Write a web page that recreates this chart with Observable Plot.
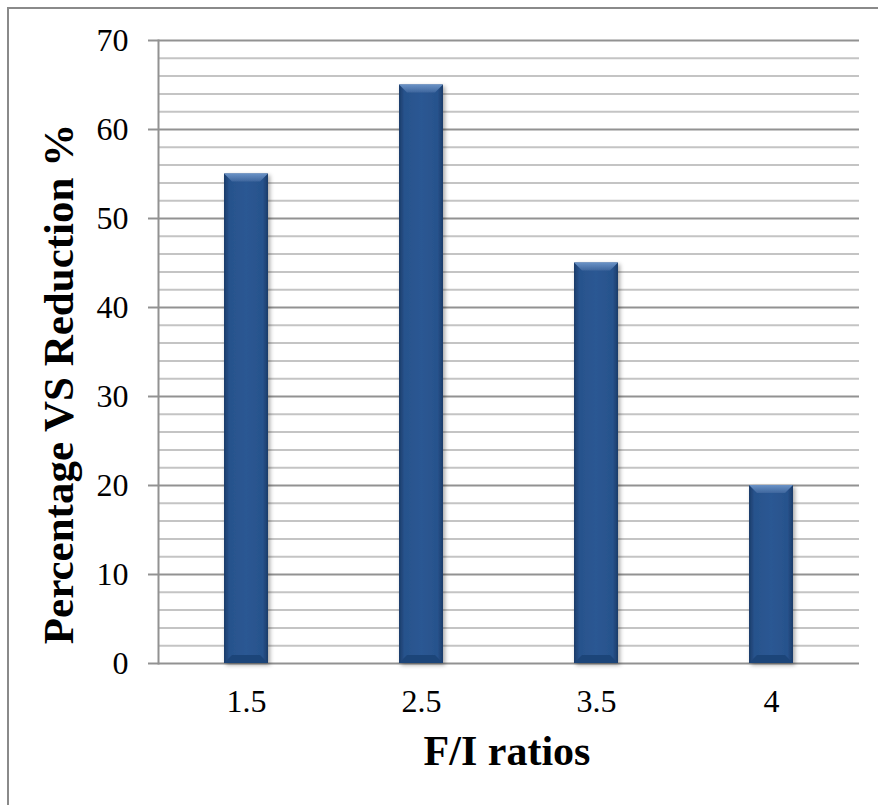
<!DOCTYPE html>
<html>
<head>
<meta charset="utf-8">
<script src="https://cdn.jsdelivr.net/npm/d3@7"></script>
<script src="https://cdn.jsdelivr.net/npm/@observablehq/plot@0.6"></script>
<style>
  body { margin: 0; background: #fff; }
  #wrap { position: relative; width: 878px; height: 805px; overflow: hidden; }
  #border { position: absolute; left: 7px; top: 7px; width: 900px; height: 900px;
            border-left: 2px solid #8a8a8a; border-top: 2px solid #8a8a8a; pointer-events: none; }
  #wrap svg { display: block; }
</style>
</head>
<body>
<div id="wrap"><div id="border"></div></div>
<script>
// F/I ratio categories and the measured reduction percentage for each
const ratios = ["1.5", "2.5", "3.5", "4"];
const reduction = [55, 65, 45, 20];

// y-axis labelled ticks and the finer gridlines between them
const majorTicks = [0, 10, 20, 30, 40, 50, 60, 70];
const minorTicks = [2, 4, 6, 8, 12, 14, 16, 18, 22, 24, 26, 28, 32, 34, 36, 38,
                    42, 44, 46, 48, 52, 54, 56, 58, 62, 64, 66, 68];

const xTitle = "F/I ratios";
const yTitle = "Percentage VS Reduction %";

const rows = ratios.map((r, i) => ({ratio: r, value: reduction[i]}));

const serif = "'Liberation Serif', 'Times New Roman', serif";

const chart = Plot.plot({
  width: 878,
  height: 805,
  marginLeft: 158,
  marginRight: 19,
  marginTop: 40,
  marginBottom: 142,
  style: {fontFamily: serif, background: "transparent", overflow: "visible"},
  x: {domain: ratios, paddingInner: 0.75, paddingOuter: 0.375},
  y: {domain: [0, 70]},
  marks: [
    Plot.ruleY(minorTicks, {stroke: "#c4c4c4", strokeWidth: 2}),
    Plot.ruleY(majorTicks, {stroke: "#929292", strokeWidth: 2}),
    Plot.frame({anchor: "left", stroke: "#929292", strokeWidth: 2}),
    Plot.barY(rows, {x: "ratio", y: "value", fill: "url(#barFill)"}),
    Plot.axisY({ticks: majorTicks, tickSize: 10, tickPadding: 20, fontSize: 32,
                stroke: "#929292", strokeWidth: 2, fill: "black", label: null}),
    Plot.axisX({tickSize: 0, tickPadding: 26, fontSize: 32, fill: "black", label: null}),
    Plot.text([xTitle], {frameAnchor: "bottom", textAnchor: "middle", lineAnchor: "middle",
                         dx: -2, dy: 88, fontSize: 42, fontWeight: "bold", fill: "black"}),
    Plot.text([yTitle], {frameAnchor: "left", textAnchor: "middle", lineAnchor: "middle",
                         rotate: -90, dx: -99, dy: 32, fontSize: 43,
                         fontWeight: "bold", fill: "black"})
  ]
});

// bevelled fill and soft shadow for the bars
const svg = d3.select(chart);
const defs = svg.insert("defs", ":first-child");
const sideGrad = defs.append("linearGradient").attr("id", "barFill")
  .attr("x1", 0).attr("x2", 1).attr("y1", 0).attr("y2", 0);
sideGrad.append("stop").attr("offset", "0").attr("stop-color", "#1c3c69");
sideGrad.append("stop").attr("offset", "0.12").attr("stop-color", "#27528c");
sideGrad.append("stop").attr("offset", "0.5").attr("stop-color", "#2c5893");
sideGrad.append("stop").attr("offset", "0.88").attr("stop-color", "#27528c");
sideGrad.append("stop").attr("offset", "1").attr("stop-color", "#1c3c69");
const capGrad = defs.append("linearGradient").attr("id", "barTop")
  .attr("x1", 0).attr("x2", 0).attr("y1", 0).attr("y2", 1);
capGrad.append("stop").attr("offset", "0").attr("stop-color", "#6a92c6");
capGrad.append("stop").attr("offset", "1").attr("stop-color", "#3e669d");
const shadow = defs.append("filter").attr("id", "barShadow")
  .attr("x", "-20%").attr("y", "-5%").attr("width", "150%").attr("height", "115%");
shadow.append("feDropShadow").attr("dx", 2).attr("dy", 2).attr("stdDeviation", 2)
  .attr("flood-color", "#000").attr("flood-opacity", 0.35);

svg.selectAll("g[aria-label='bar']").attr("filter", "url(#barShadow)").each(function () {
  const grp = d3.select(this);
  grp.selectAll("rect").each(function () {
    const r = d3.select(this);
    const x = +r.attr("x"), y = +r.attr("y"), w = +r.attr("width"), h = +r.attr("height");
    const b = 8;
    grp.append("polygon")
      .attr("points", `${x},${y} ${x + w},${y} ${x + w - b},${y + b} ${x + b},${y + b}`)
      .attr("fill", "url(#barTop)");
    grp.append("polygon")
      .attr("points", `${x},${y + h} ${x + w},${y + h} ${x + w - b},${y + h - b} ${x + b},${y + h - b}`)
      .attr("fill", "#1f4479");
  });
});

document.getElementById("wrap").prepend(chart);
</script>
</body>
</html>
